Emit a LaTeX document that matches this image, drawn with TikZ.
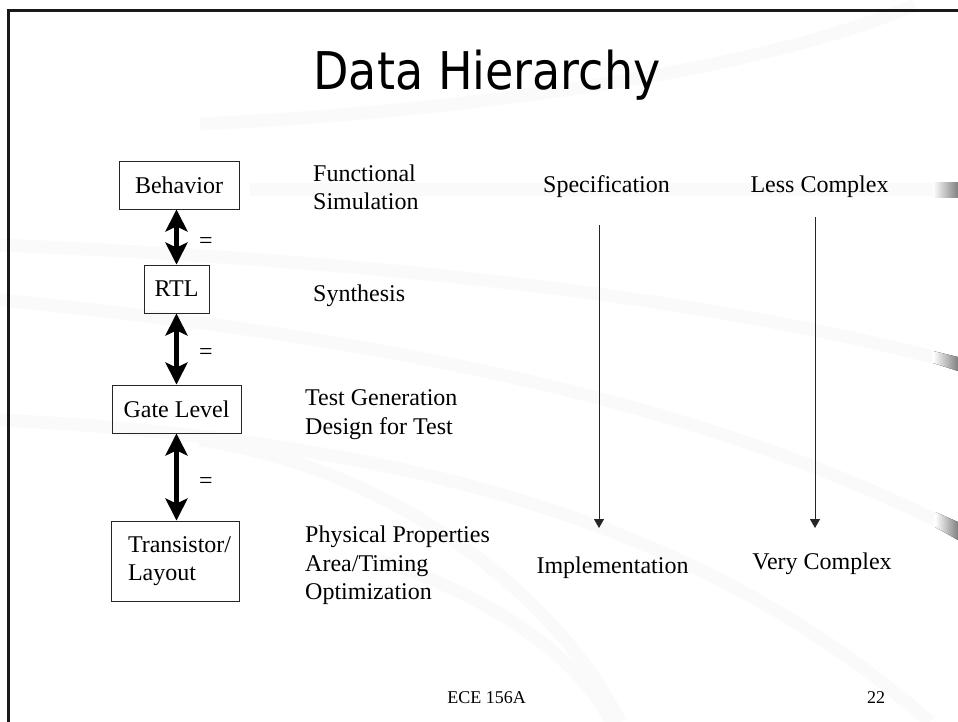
\documentclass[tikz,border=0pt]{standalone}
\usepackage{fontspec}
\setmainfont{Liberation Serif}
\newfontfamily\titlefont{DejaVu Sans}
\usepackage{graphicx}
\usetikzlibrary{arrows.meta}
\begin{document}
\begin{tikzpicture}[x=1pt,y=-1pt,
  box/.style={draw=black!85, line width=0.9pt, inner sep=0pt, font=\fontsize{24}{28.3}\selectfont},
  lbl/.style={anchor=base west, inner sep=0pt, font=\fontsize{24}{28}\selectfont},
  clbl/.style={anchor=base, inner sep=0pt, font=\fontsize{24}{28}\selectfont},
  foot/.style={anchor=base, inner sep=0pt, font=\fontsize{18}{21}\selectfont},
  eqlbl/.style={inner sep=0pt, font=\fontsize{24}{28}\selectfont},
  bigarrow/.style={line width=5pt, {Stealth[length=22pt,width=22pt,inset=5pt]}-{Stealth[length=22pt,width=22pt,inset=5pt]}},
  thinarrow/.style={line width=1pt, draw=black!85, -{Triangle[length=9pt,width=10pt]}},
  swoosh/.style={line width=13pt, draw=black!2},
  swend/.style={left color=white, right color=black!50, draw=none},
  ]
\useasboundingbox (0,0) rectangle (958,722);
% background swooshes
\draw[swoosh] (200,124) .. controls (450,112) and (750,75) .. (915,5);
\draw[swoosh] (250,190) -- (935,190);
\draw[swoosh] (0,245) .. controls (300,258) and (650,285) .. (933,357);
\draw[swoosh] (0,300) .. controls (300,330) and (650,380) .. (935,520);
\draw[swoosh] (0,420) .. controls (400,440) and (700,520) .. (930,722);
\draw[swoosh] (200,440) .. controls (400,470) and (560,600) .. (620,722);
\draw[swoosh] (380,560) .. controls (500,600) and (580,660) .. (611,722);
% swoosh ends
\fill[swend] (933,183) rectangle (958,198);
\fill[swend] (933,351) -- (958,357) -- (958,371) -- (933,363) -- cycle;
\fill[swend] (935,512) -- (958,522) -- (958,540) -- (935,527) -- cycle;
% frame
\draw[line width=2.5pt, black!90] (8.5,722) -- (8.5,10.5) -- (958,10.5);
% title
\node[anchor=base, inner sep=0pt] (title) at (487,90) {\scalebox{0.885}[1]{\titlefont\fontsize{52}{60}\selectfont Data Hierarchy}};
% boxes
\node[box, minimum width=120pt, minimum height=48pt] (beh) at (179,185) {Behavior};
\node[box, minimum width=65pt, minimum height=48pt] (rtl) at (176.5,289) {RTL};
\node[box, minimum width=129pt, minimum height=48pt] (gate) at (176.5,409) {Gate Level};
\node[box, minimum width=128pt, minimum height=80pt, text width=94pt, align=left] (trans) at (175,561) {Transistor/\\Layout};
% thick double arrows
\draw[bigarrow] (rtl.north |- beh.south) -- (rtl.north);
\draw[bigarrow] (rtl.south) -- (gate.north);
\draw[bigarrow] (gate.south) -- (gate.south |- trans.north);
\node[eqlbl] (eq1) at (206,243) {=};
\node[eqlbl] (eq2) at (206,354) {=};
\node[eqlbl] (eq3) at (206,483) {=};
% middle column
\node[lbl] (fs1) at (313,182) {Functional};
\node[lbl] (fs2) at (313,210) {Simulation};
\node[lbl] (syn) at (313,301) {Synthesis};
\node[lbl] (tg1) at (305,405) {Test Generation};
\node[lbl] (tg2) at (305,434) {Design for Test};
\node[lbl] (pp1) at (305,542) {Physical Properties};
\node[lbl] (pp2) at (305,571) {Area/Timing};
\node[lbl] (pp3) at (305,599) {Optimization};
% right columns
\node[clbl] (spec) at (606.5,193) {Specification};
\node[clbl] (less) at (819.5,193) {Less Complex};
\node[clbl] (impl) at (612.5,573) {Implementation};
\node[clbl] (very) at (822,569.5) {Very Complex};
\coordinate (a1s) at (599,225);
\coordinate (a1e) at (599,528);
\coordinate (a2s) at (815,217);
\coordinate (a2e) at (815,528);
\draw[thinarrow] (a1s) -- (a1e);
\draw[thinarrow] (a2s) -- (a2e);
% footer
\node[foot] (ece) at (486.5,703) {ECE 156A};
\node[foot] (num) at (876,703) {22};
\end{tikzpicture}
\end{document}
